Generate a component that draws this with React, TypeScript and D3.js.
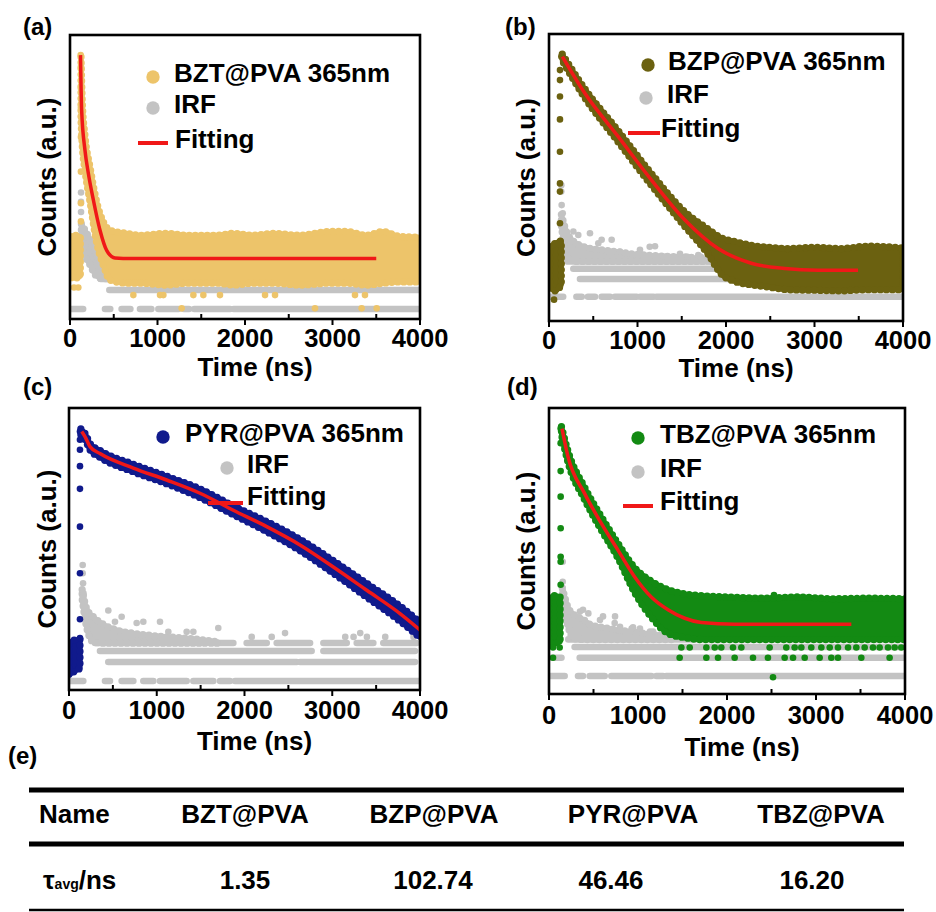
import React from "react";
import * as d3 from "d3";

// ---------------- shared axis data ----------------
const xDomain = [0, 4000];
const xMajorTicks = [0, 1000, 2000, 3000, 4000];
const xMinorTicks = [500, 1500, 2500, 3500];
const xTitle = "Time (ns)";
const yTitle = "Counts (a.u.)";
const irfLabel = "IRF";
const fitLabel = "Fitting";
const sampleLabels = ["BZT@PVA 365nm", "BZP@PVA 365nm", "PYR@PVA 365nm", "TBZ@PVA 365nm"];
const panelLetters = ["(a)", "(b)", "(c)", "(d)"];

// All y values below are log10(counts); times are in ns.

// ---------------- (a) BZT@PVA ----------------
const bztPreT = [0, 60, 118];
const bztPreHi = [1.15, 1.17, 1.15];
const bztPreLo = [0.5, 0.49, 0.52];
const bztBandT = [126, 140, 171, 229, 305, 381, 457, 648, 800, 1105, 1333, 1676, 1867, 2095, 2324, 2629, 2971, 3162, 3390, 3581, 3771, 4000];
const bztBandHi = [4.0, 3.3, 2.75, 2.25, 1.7, 1.38, 1.25, 1.2, 1.17, 1.2, 1.17, 1.17, 1.2, 1.17, 1.2, 1.17, 1.23, 1.23, 1.17, 1.23, 1.15, 1.14];
const bztBandLo = [3.0, 2.6, 2.2, 1.7, 1.05, 0.7, 0.46, 0.41, 0.41, 0.38, 0.41, 0.41, 0.38, 0.41, 0.41, 0.38, 0.41, 0.41, 0.38, 0.41, 0.43, 0.43];
const bztDotT = [122, 125, 125, 125, 125, 125, 125, 125, 46, 95, 724, 1029, 1067, 1410, 1524, 1714, 2229, 2343, 3257, 3371, 1276, 2800, 3333, 3505];
const bztDotY = [4.03, 3.85, 3.5, 3.2, 2.73, 2.18, 1.68, 1.39, 0.34, 0.34, 0.22, 0.22, 0.22, 0.22, 0.22, 0.22, 0.22, 0.22, 0.22, 0.22, 0.01, 0.01, 0.01, 0.01];
const bztFitT = [120, 133, 171, 210, 267, 343, 419, 514, 700, 3500];
const bztFitY = [4.03, 3.16, 2.52, 2.15, 1.73, 1.25, 0.93, 0.81, 0.8, 0.8];
const bztIrfCoreT = [130, 152, 229, 305, 381, 457];
const bztIrfCoreHi = [1.35, 1.3, 1.1, 0.85, 0.65, 0.51];
const bztIrfCoreLo = [1.15, 0.95, 0.7, 0.52, 0.48, 0.48];
const bztIrfDotT = [126, 126, 126];
const bztIrfDotY = [1.85, 1.7, 1.54];
const bztIrfRowLevel = [0, 0, 0, 0, 0, 0, 0, 0, 0.301, 0.477];
const bztIrfRowStart = [0, 400, 590, 800, 1010, 1300, 1420, 1870, 450, 350];
const bztIrfRowEnd = [150, 460, 690, 930, 1240, 1360, 1830, 4000, 4000, 4000];

// ---------------- (b) BZP@PVA ----------------
const bzpPreT = [8, 70, 139];
const bzpPreHi = [0.85, 0.91, 0.95];
const bzpPreLo = [0.15, 0.1, 0.2];
const bzpBandT = [150, 400, 780, 1156, 1533, 1800, 1950, 2100, 2300, 2500, 2700, 3000, 3300, 3600, 4000];
const bzpBandHi = [4.13, 3.55, 2.83, 2.1, 1.45, 1.15, 1.0, 0.94, 0.87, 0.84, 0.82, 0.84, 0.82, 0.86, 0.83];
const bzpBandLo = [4.02, 3.4, 2.64, 1.9, 1.2, 0.72, 0.38, 0.26, 0.2, 0.16, 0.12, 0.11, 0.1, 0.12, 0.12];
const bzpDotT = [57, 124, 124, 124, 124, 124, 124, 124, 124, 140];
const bzpDotY = [-0.05, 1.25, 1.79, 1.93, 2.47, 3.02, 3.41, 3.69, 3.86, 4.09];
const bzpFitT = [151, 403, 780, 1156, 1533, 1910, 2286, 2663, 3040, 3492];
const bzpFitY = [4.09, 3.47, 2.73, 1.99, 1.31, 0.82, 0.57, 0.48, 0.45, 0.45];
const bzpIrfCoreT = [140, 200, 300, 450, 700, 1000, 1300, 1600, 1800];
const bzpIrfCoreHi = [1.4, 1.1, 0.92, 0.83, 0.78, 0.72, 0.69, 0.67, 0.62];
const bzpIrfCoreLo = [1.2, 0.7, 0.6, 0.6, 0.6, 0.6, 0.6, 0.6, 0.6];
const bzpIrfDotT = [139, 139, 143, 155, 275, 331, 463, 595, 708, 557, 1198, 1480, 1687, 1782, 1028, 802, 1138, 1300, 1565, 1716];
const bzpIrfDotY = [1.9, 1.79, 1.56, 1.42, 1.11, 1.05, 1.08, 0.97, 0.97, 0.91, 0.86, 0.73, 0.71, 0.63, 0.8, 0.77, 0.85, 0.68, 0.68, 0.68];
const bzpIrfRowLevel = [0, 0, 0, 0, 0, 0, 0, 0.301, 0.477, 0.602];
const bzpIrfRowStart = [10, 310, 440, 595, 745, 1030, 1215, 350, 275, 200];
const bzpIrfRowEnd = [160, 370, 520, 690, 990, 1180, 4000, 4000, 4000, 2600];

// ---------------- (c) PYR@PVA ----------------
const pyrPreT = [0, 60, 125];
const pyrPreHi = [0.6, 0.65, 0.66];
const pyrPreLo = [0.1, 0.15, 0.2];
const pyrBandT = [135, 182, 239, 353, 733, 1113, 1493, 1872, 2253, 2632, 3012, 3393, 3772, 4000];
const pyrBandHi = [4.0, 3.93, 3.77, 3.66, 3.44, 3.25, 3.05, 2.78, 2.53, 2.25, 1.91, 1.55, 1.19, 0.93];
const pyrBandLo = [3.9, 3.83, 3.67, 3.55, 3.32, 3.13, 2.91, 2.64, 2.37, 2.07, 1.71, 1.33, 0.95, 0.69];
const pyrDotT = [125, 125, 125, 125, 125, 125, 125, 125, 125];
const pyrDotY = [3.96, 3.83, 3.67, 3.41, 3.05, 2.45, 1.71, 0.98, 0.68];
const pyrFitT = [145, 182, 239, 353, 733, 1113, 1493, 1872, 2253, 2632, 3012, 3393, 3772, 4000];
const pyrFitY = [3.96, 3.88, 3.72, 3.61, 3.38, 3.19, 2.98, 2.71, 2.45, 2.16, 1.81, 1.44, 1.07, 0.81];
const pyrIrfCoreT = [150, 201, 277, 391, 543, 771, 1037, 1417, 1700];
const pyrIrfCoreHi = [1.45, 1.15, 1.02, 0.9, 0.81, 0.75, 0.71, 0.67, 0.62];
const pyrIrfCoreLo = [1.3, 0.85, 0.62, 0.6, 0.6, 0.6, 0.6, 0.6, 0.6];
const pyrIrfDotT = [156, 156, 160, 165, 448, 524, 600, 847, 1037, 771, 1132, 1341, 1417, 1701, 2082, 2310, 2462, 3148, 3243, 3319, 3395, 3604, 3926];
const pyrIrfDotY = [1.84, 1.71, 1.55, 1.39, 1.12, 0.94, 1.02, 0.94, 0.94, 0.92, 0.78, 0.78, 0.78, 0.84, 0.7, 0.7, 0.76, 0.7, 0.7, 0.76, 0.7, 0.7, 0.7];
const pyrIrfRowLevel = [0, 0, 0, 0, 0, 0, 0, 0, 0.301, 0.301, 0.477, 0.477, 0.602, 0.602, 0.602, 0.602, 0.602, 0.602, 0.602];
const pyrIrfRowStart = [0, 410, 600, 847, 1037, 1417, 1721, 1892, 448, 2633, 353, 2899, 296, 1645, 2025, 2367, 2899, 3279, 3582];
const pyrIrfRowEnd = [163, 467, 733, 961, 1341, 1645, 1835, 4000, 2595, 3943, 2765, 3943, 1531, 1873, 2253, 2747, 3165, 3468, 3962];

// ---------------- (d) TBZ@PVA ----------------
const tbzPreT = [0, 60, 125];
const tbzPreHi = [1.28, 1.32, 1.3];
const tbzPreLo = [0.55, 0.54, 0.56];
const tbzBandT = [140, 213, 401, 588, 775, 963, 1149, 1337, 1525, 1711, 2000, 2400, 2800, 3200, 3600, 4000];
const tbzBandHi = [4.1, 3.7, 3.1, 2.62, 2.18, 1.78, 1.56, 1.42, 1.35, 1.32, 1.3, 1.28, 1.3, 1.27, 1.28, 1.27];
const tbzBandLo = [3.97, 3.52, 2.9, 2.4, 1.94, 1.37, 0.97, 0.7, 0.63, 0.6, 0.6, 0.6, 0.6, 0.6, 0.6, 0.6];
const tbzDotT = [131, 131, 131, 131, 131, 131, 131, 131, 2528, 2517,
  45, 120, 1487, 1581, 1768, 1862, 1936, 2067, 2161, 2479, 2666, 2760, 2835, 2947, 3060, 3154, 3247, 3360, 3453, 3547, 3640, 3715, 3809, 3884, 3958,
  45, 1468, 1768, 1899, 2086, 2292, 2460, 2648, 2742, 2873, 3041, 3172, 3247, 3509, 3827];
const tbzDotY = [1.5, 1.88, 1.96, 2.43, 2.95, 3.37, 3.83, 4.07, 1.33, -0.02,
  0.47, 0.47, 0.47, 0.47, 0.47, 0.47, 0.47, 0.47, 0.47, 0.47, 0.47, 0.47, 0.47, 0.47, 0.47, 0.47, 0.47, 0.47, 0.47, 0.47, 0.47, 0.47, 0.47, 0.47, 0.47,
  0.3, 0.3, 0.3, 0.3, 0.3, 0.3, 0.3, 0.3, 0.3, 0.3, 0.3, 0.3, 0.3, 0.3, 0.3];
const tbzFitT = [146, 213, 401, 588, 775, 963, 1149, 1337, 1525, 1711, 2087, 3397];
const tbzFitY = [4.07, 3.61, 3.0, 2.51, 2.07, 1.63, 1.3, 1.09, 0.95, 0.88, 0.85, 0.85];
const tbzIrfCoreT = [150, 217, 273, 385, 461, 648, 1022, 1397];
const tbzIrfCoreHi = [1.45, 1.12, 1.02, 0.93, 0.85, 0.79, 0.71, 0.65];
const tbzIrfCoreLo = [1.3, 0.8, 0.62, 0.6, 0.6, 0.6, 0.6, 0.6];
const tbzIrfDotT = [154, 154, 157, 348, 442, 573, 742, 798, 929, 1022, 1135, 607, 382, 738, 944, 1169];
const tbzIrfDotY = [1.88, 1.55, 1.39, 1.06, 1.03, 0.92, 0.98, 0.81, 0.78, 0.78, 0.73, 0.98, 1.09, 0.87, 0.8, 0.73];
const tbzIrfRowLevel = [0, 0, 0, 0, 0, 0, 0.301, 0.301, 0.477, 0.602];
const tbzIrfRowStart = [8, 326, 457, 700, 1206, 1318, 30, 345, 288, 217];
const tbzIrfRowEnd = [176, 382, 626, 1150, 1281, 4000, 140, 4000, 4000, 4000];

// ---------------- (e) table ----------------
const tableLetter = "(e)";
const tableHeader = ["Name", "BZT@PVA", "BZP@PVA", "PYR@PVA", "TBZ@PVA"];
const tauValues = ["1.35", "102.74", "46.46", "16.20"];

// ---------------- styles ----------------
const FONT = "'Liberation Sans', Arial, Helvetica, sans-serif";
const GRAY = "#C3C3C3";
const RED = "#F01818";
const sampleColors = ["#EDC46A", "#6B6110", "#101A8C", "#138A13"];
const DOT_R = 3.3;
const BAND_W = 5;

type Series = {
  preT: number[]; preHi: number[]; preLo: number[];
  bandT: number[]; bandHi: number[]; bandLo: number[];
  dotT: number[]; dotY: number[];
  fitT: number[]; fitY: number[];
  irfCoreT: number[]; irfCoreHi: number[]; irfCoreLo: number[];
  irfDotT: number[]; irfDotY: number[];
  rowLevel: number[]; rowStart: number[]; rowEnd: number[];
};

const seriesList: Series[] = [
  { preT: bztPreT, preHi: bztPreHi, preLo: bztPreLo, bandT: bztBandT, bandHi: bztBandHi, bandLo: bztBandLo, dotT: bztDotT, dotY: bztDotY, fitT: bztFitT, fitY: bztFitY, irfCoreT: bztIrfCoreT, irfCoreHi: bztIrfCoreHi, irfCoreLo: bztIrfCoreLo, irfDotT: bztIrfDotT, irfDotY: bztIrfDotY, rowLevel: bztIrfRowLevel, rowStart: bztIrfRowStart, rowEnd: bztIrfRowEnd },
  { preT: bzpPreT, preHi: bzpPreHi, preLo: bzpPreLo, bandT: bzpBandT, bandHi: bzpBandHi, bandLo: bzpBandLo, dotT: bzpDotT, dotY: bzpDotY, fitT: bzpFitT, fitY: bzpFitY, irfCoreT: bzpIrfCoreT, irfCoreHi: bzpIrfCoreHi, irfCoreLo: bzpIrfCoreLo, irfDotT: bzpIrfDotT, irfDotY: bzpIrfDotY, rowLevel: bzpIrfRowLevel, rowStart: bzpIrfRowStart, rowEnd: bzpIrfRowEnd },
  { preT: pyrPreT, preHi: pyrPreHi, preLo: pyrPreLo, bandT: pyrBandT, bandHi: pyrBandHi, bandLo: pyrBandLo, dotT: pyrDotT, dotY: pyrDotY, fitT: pyrFitT, fitY: pyrFitY, irfCoreT: pyrIrfCoreT, irfCoreHi: pyrIrfCoreHi, irfCoreLo: pyrIrfCoreLo, irfDotT: pyrIrfDotT, irfDotY: pyrIrfDotY, rowLevel: pyrIrfRowLevel, rowStart: pyrIrfRowStart, rowEnd: pyrIrfRowEnd },
  { preT: tbzPreT, preHi: tbzPreHi, preLo: tbzPreLo, bandT: tbzBandT, bandHi: tbzBandHi, bandLo: tbzBandLo, dotT: tbzDotT, dotY: tbzDotY, fitT: tbzFitT, fitY: tbzFitY, irfCoreT: tbzIrfCoreT, irfCoreHi: tbzIrfCoreHi, irfCoreLo: tbzIrfCoreLo, irfDotT: tbzIrfDotT, irfDotY: tbzIrfDotY, rowLevel: tbzIrfRowLevel, rowStart: tbzIrfRowStart, rowEnd: tbzIrfRowEnd },
];

// ---------------- layout ----------------
type Layout = {
  left: number; right: number; top: number; bottom: number; yDomain: [number, number];
  letterX: number; letterY: number; tickBase: number; titleBase: number; titleDx: number; yTitleX: number;
  leg: { s: number[]; i: number[]; f: number[] };
};
const layouts: Layout[] = [
  { left: 70, right: 420, top: 35, bottom: 319, yDomain: [-0.159, 4.349], letterX: 23, letterY: 35, tickBase: 347, titleBase: 376, titleDx: 10, yTitleX: 56,
    leg: { s: [153, 77, 174, 82], i: [153, 108, 174, 113], f: [138, 168, 143, 175, 148] } },
  { left: 549, right: 903, top: 34, bottom: 321, yDomain: [-0.414, 4.475], letterX: 505, letterY: 35, tickBase: 349, titleBase: 377, titleDx: 10, yTitleX: 535,
    leg: { s: [648, 65, 668, 70], i: [646, 98, 667, 103], f: [628, 660, 133, 661, 137] } },
  { left: 69, right: 420, top: 408, bottom: 690, yDomain: [-0.143, 4.333], letterX: 23, letterY: 395, tickBase: 719, titleBase: 750, titleDx: 10, yTitleX: 56,
    leg: { s: [163, 437, 185, 442], i: [227, 468, 247, 473], f: [208, 243, 503, 247, 505] } },
  { left: 549, right: 905, top: 408, bottom: 694, yDomain: [-0.296, 4.408], letterX: 507, letterY: 395, tickBase: 724, titleBase: 756, titleDx: 15, yTitleX: 535,
    leg: { s: [638, 438, 660, 443], i: [638, 472, 660, 477], f: [623, 653, 506, 660, 510] } },
];

function Panel({ idx }: { idx: number }) {
  const s = seriesList[idx];
  const L = layouts[idx];
  const color = sampleColors[idx];
  const x = d3.scaleLinear().domain(xDomain).range([L.left, L.right]);
  const y = d3.scaleLinear().domain(L.yDomain).range([L.bottom, L.top]);
  const areaPath = (T: number[], hi: number[], lo: number[]) =>
    d3.area<number>()
      .x((d) => x(d))
      .y0((_, i) => y(lo[i]))
      .y1((_, i) => y(hi[i]))
      .curve(d3.curveMonotoneX)(T) || "";
  const fitPath =
    d3.line<number>().x((d) => x(d)).y((_, i) => y(s.fitY[i])).curve(d3.curveMonotoneX)(s.fitT) || "";
  const clipId = `clip-${idx}`;
  const fs = { fontFamily: FONT, fontWeight: 700 } as const;
  const Cloud = ({ d, c }: { d: string; c: string }) => (
    <g>
      <path d={d} fill={c} stroke={c} strokeWidth={BAND_W} strokeLinejoin="round" />
      <path d={d} fill="none" stroke={c} strokeWidth={DOT_R * 2.2} strokeDasharray="0 6" strokeLinecap="round" />
    </g>
  );
  return (
    <g>
      <defs>
        <clipPath id={clipId}>
          <rect x={L.left} y={L.top} width={L.right - L.left} height={L.bottom - L.top} />
        </clipPath>
      </defs>
      <g clipPath={`url(#${clipId})`}>
        {s.rowLevel.map((lv, i) => (
          <line key={`r${i}`} x1={x(s.rowStart[i])} x2={x(s.rowEnd[i])} y1={y(lv)} y2={y(lv)}
            stroke={GRAY} strokeWidth={DOT_R * 2} strokeLinecap="round" />
        ))}
        <Cloud d={areaPath(s.irfCoreT, s.irfCoreHi, s.irfCoreLo)} c={GRAY} />
        {s.irfDotT.map((t, i) => (
          <circle key={`id${i}`} cx={x(t)} cy={y(s.irfDotY[i])} r={DOT_R} fill={GRAY} />
        ))}
        <Cloud d={areaPath(s.preT, s.preHi, s.preLo)} c={color} />
        <Cloud d={areaPath(s.bandT, s.bandHi, s.bandLo)} c={color} />
        {s.dotT.map((t, i) => (
          <circle key={`d${i}`} cx={x(t)} cy={y(s.dotY[i])} r={DOT_R} fill={color} />
        ))}
        <path d={fitPath} fill="none" stroke={RED} strokeWidth={3.5} strokeLinejoin="round" />
      </g>
      <rect x={L.left} y={L.top} width={L.right - L.left} height={L.bottom - L.top} fill="none" stroke="#000" strokeWidth={2.6} />
      {xMajorTicks.map((t) => (
        <g key={`M${t}`}>
          <line x1={x(t)} x2={x(t)} y1={L.bottom} y2={L.bottom + 6} stroke="#000" strokeWidth={2} />
          <text x={x(t)} y={L.tickBase} textAnchor="middle" fontSize={25.5} {...fs}>{t}</text>
        </g>
      ))}
      {xMinorTicks.map((t) => (
        <line key={`m${t}`} x1={x(t)} x2={x(t)} y1={L.bottom} y2={L.bottom - 5} stroke="#000" strokeWidth={2} />
      ))}
      <text x={(L.left + L.right) / 2 + L.titleDx} y={L.titleBase} textAnchor="middle" fontSize={26} {...fs}>{xTitle}</text>
      <text transform={`translate(${L.yTitleX},${(L.top + L.bottom) / 2}) rotate(-90)`} textAnchor="middle" fontSize={26} {...fs}>{yTitle}</text>
      <text x={L.letterX} y={L.letterY} fontSize={24} {...fs}>{panelLetters[idx]}</text>
      {/* legend */}
      <circle cx={L.leg.s[0]} cy={L.leg.s[1]} r={6.7} fill={color} />
      <text x={L.leg.s[2]} y={L.leg.s[3]} fontSize={26} {...fs}>{sampleLabels[idx]}</text>
      <circle cx={L.leg.i[0]} cy={L.leg.i[1]} r={6.7} fill={GRAY} />
      <text x={L.leg.i[2]} y={L.leg.i[3]} fontSize={26} {...fs}>{irfLabel}</text>
      <line x1={L.leg.f[0]} x2={L.leg.f[1]} y1={L.leg.f[2]} y2={L.leg.f[2]} stroke={RED} strokeWidth={4} />
      <text x={L.leg.f[3]} y={L.leg.f[4]} fontSize={26} {...fs}>{fitLabel}</text>
    </g>
  );
}

function Table() {
  const headerX = [245, 434, 633, 821];
  const valueX = [245, 433, 611, 812];
  const fs = { fontFamily: FONT, fontWeight: 700 } as const;
  return (
    <g>
      <text x={8} y={764} fontSize={24} {...fs}>{tableLetter}</text>
      <line x1={29} x2={904} y1={790} y2={790} stroke="#000" strokeWidth={5} />
      <line x1={29} x2={904} y1={844} y2={844} stroke="#000" strokeWidth={5} />
      <line x1={29} x2={904} y1={910} y2={910} stroke="#000" strokeWidth={2.5} />
      <text x={39} y={823} fontSize={26} {...fs}>{tableHeader[0]}</text>
      {tableHeader.slice(1).map((h, i) => (
        <text key={h} x={headerX[i]} y={823} textAnchor="middle" fontSize={26} {...fs}>{h}</text>
      ))}
      <text x={43} y={889} fontSize={26} {...fs}>
        τ<tspan fontSize={14}>avg</tspan>/ns
      </text>
      {tauValues.map((v, i) => (
        <text key={v} x={valueX[i]} y={889} textAnchor="middle" fontSize={26} {...fs}>{v}</text>
      ))}
    </g>
  );
}

export default function App() {
  return (
    <svg width={936} height={912} viewBox="0 0 936 912"
      style={{ position: "absolute", left: 0, top: 0, background: "#fff" }}>
      <rect x={0} y={0} width={936} height={912} fill="#fff" />
      {[0, 1, 2, 3].map((i) => <Panel key={i} idx={i} />)}
      <Table />
    </svg>
  );
}
